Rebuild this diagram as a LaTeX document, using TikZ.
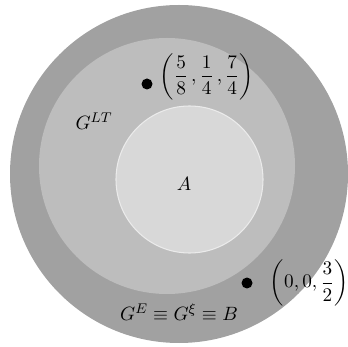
\documentclass[tikz,border=0pt]{standalone}
\usepackage{amsmath,amssymb}
\usepackage{tikz}
\usetikzlibrary{positioning}
\definecolor{setouter}{HTML}{A1A1A1}
\definecolor{setmiddle}{HTML}{BDBDBD}
\definecolor{setinner}{HTML}{D8D8D8}

\begin{document}
\begin{tikzpicture}[
    x=0.02cm, y=-0.02cm,
    font=\fontsize{11}{13}\selectfont,
    point/.style={circle, fill=black, inner sep=0pt, minimum size=2.2mm},
    label/.style={inner sep=1pt}
]
\useasboundingbox (0,0) rectangle (348,347);
\fill[setouter] (179,174) circle (169);
\fill[setmiddle] (167,166) circle (128);
\fill[setinner, draw=white!50!setinner, line width=0.6pt] (189.5,179.5) circle (73.5);

\node[label] (a) at (184,184) {$A$};
\node[label] (glt) at (94,121) {$G^{LT}$};
\node[label] (gb) at (179,312) {$G^{E}\equiv G^{\xi}\equiv B$};

\node[point] (p1) at (147,84) {};
\node[label, right=1mm of p1, yshift=0.15cm] (p1lab) {$\left(\dfrac{5}{8}\,,\dfrac{1}{4}\,,\dfrac{7}{4}\right)$};
\node[point] (p2) at (247,283) {};
\node[label, right=3mm of p2] (p2lab) {$\left(0,0,\dfrac{3}{2}\right)$};
\end{tikzpicture}
\end{document}
